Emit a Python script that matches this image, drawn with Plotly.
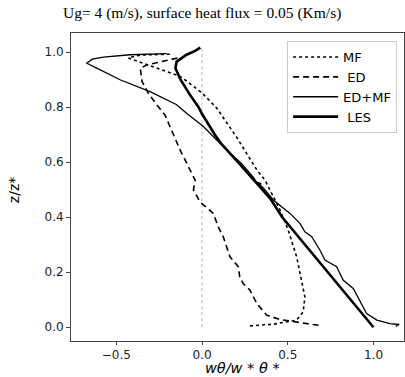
import plotly.graph_objects as go

# ---- data ----
les_x = [1.0, 0.867, 0.734, 0.60, 0.468, 0.397, 0.30, 0.25, 0.21, 0.145, 0.11, 0.075, 0.02, -0.002,
         -0.02, -0.07, -0.125, -0.155, -0.148, -0.09, -0.04, -0.01]
les_z = [0.0, 0.1, 0.2, 0.3, 0.4, 0.469, 0.535, 0.572, 0.6, 0.645, 0.669, 0.7, 0.754, 0.778,
         0.8, 0.845, 0.9, 0.942, 0.966, 0.991, 1.005, 1.017]

edmf_x = [1.13, 1.15, 1.096, 1.02, 0.96, 0.921, 0.882, 0.824, 0.785, 0.717, 0.688, 0.64, 0.60,
          0.571, 0.513, 0.416, 0.36, 0.32, 0.345, 0.33, 0.30, 0.23, 0.17, 0.16, 0.153, 0.086,
          0.008, -0.09, -0.15, -0.303, -0.478, -0.614, -0.672, -0.64, -0.575, -0.42, -0.206]
edmf_z = [0.003, 0.010, 0.013, 0.026, 0.05, 0.098, 0.141, 0.171, 0.22, 0.244, 0.28, 0.329, 0.347,
          0.378, 0.414, 0.463, 0.505, 0.528, 0.522, 0.515, 0.545, 0.596, 0.630, 0.637, 0.639, 0.681,
          0.73, 0.778, 0.81, 0.857, 0.90, 0.942, 0.96, 0.975, 0.982, 0.991, 0.995]

mf_x = [0.28, 0.416, 0.552, 0.59, 0.60, 0.581, 0.552, 0.503, 0.455, 0.416, 0.367, 0.32, 0.20,
        0.086, 0.0, -0.10, -0.128, -0.206, -0.32, -0.43, -0.36, -0.187]
mf_z = [0.005, 0.011, 0.026, 0.056, 0.11, 0.171, 0.256, 0.353, 0.426, 0.475, 0.535, 0.572, 0.693,
        0.797, 0.852, 0.90, 0.912, 0.93, 0.954, 0.979, 0.99, 0.993]

ed_x = [0.68, 0.552, 0.455, 0.377, 0.32, 0.28, 0.24, 0.22, 0.212, 0.163, 0.124, 0.095, 0.066,
        -0.012, -0.05, -0.04, -0.07, -0.128, -0.187, -0.216, -0.264, -0.313, -0.35, -0.36,
        -0.32, -0.128]
ed_z = [0.007, 0.02, 0.028, 0.044, 0.086, 0.135, 0.159, 0.183, 0.22, 0.256, 0.329, 0.365, 0.414,
        0.456, 0.499, 0.535, 0.572, 0.645, 0.73, 0.772, 0.809, 0.851, 0.894, 0.942, 0.954, 0.981]

zero_x = [0.0, 0.0]
zero_z = [0.0, 1.02]

x_ticks = [-0.5, 0.0, 0.5, 1.0]
x_tick_labels = ["\u22120.5", "0.0", "0.5", "1.0"]
y_ticks = [0.0, 0.2, 0.4, 0.6, 0.8, 1.0]
y_tick_labels = ["0.0", "0.2", "0.4", "0.6", "0.8", "1.0"]

title_text = "Ug= 4 (m/s), surface heat flux = 0.05 (Km/s)"

fig = go.Figure()
fig.add_trace(go.Scatter(x=zero_x, y=zero_z, mode="lines", showlegend=False, hoverinfo="skip",
                         line=dict(color="#b5b5b5", width=1, dash="dot")))
fig.add_trace(go.Scatter(x=mf_x, y=mf_z, mode="lines", name="MF",
                         line=dict(color="black", width=1.6, dash="dot")))
fig.add_trace(go.Scatter(x=ed_x, y=ed_z, mode="lines", name=" ED",
                         line=dict(color="black", width=1.6, dash="6px,4px")))
fig.add_trace(go.Scatter(x=edmf_x, y=edmf_z, mode="lines", name="ED+MF",
                         line=dict(color="black", width=1.3)))
fig.add_trace(go.Scatter(x=les_x, y=les_z, mode="lines", name=" LES",
                         line=dict(color="black", width=2.6)))

axis_common = dict(showgrid=False, zeroline=False, showline=True, linecolor="#444", linewidth=1,
                   mirror=True, ticks="outside", tickcolor="#444",
                   tickfont=dict(family="DejaVu Sans", size=12, color="#222"))

fig.update_layout(
    width=405, height=377,
    margin=dict(l=71, r=1, t=33, b=36),
    paper_bgcolor="white", plot_bgcolor="white",
    xaxis=dict(range=[-0.764, 1.178], tickvals=x_ticks, ticktext=x_tick_labels, ticklen=3,
               **axis_common),
    yaxis=dict(range=[-0.05, 1.07], tickvals=y_ticks, ticktext=y_tick_labels, ticklen=4,
               **axis_common),
    legend=dict(x=0.649, y=0.974, xanchor="left", yanchor="top",
                bgcolor="white", bordercolor="#cccccc", borderwidth=1,
                font=dict(family="DejaVu Sans", size=13, color="black"),
                tracegroupgap=0, itemwidth=45),
    showlegend=True,
    annotations=[
        dict(text=title_text, xref="paper", yref="paper", x=0.393, y=1.065,
             xanchor="center", yanchor="middle", showarrow=False,
             font=dict(family="Liberation Serif", size=15.5, color="black")),
        dict(text="<i>w\u03b8/w * \u03b8 *</i>", xref="paper", yref="paper", x=0.516, y=-0.088,
             xanchor="center", yanchor="middle", showarrow=False,
             font=dict(family="DejaVu Sans", size=14.5, color="black")),
        dict(text="z/z*", xref="paper", yref="paper", x=-0.171, y=0.49, textangle=-90,
             xanchor="center", yanchor="middle", showarrow=False,
             font=dict(family="DejaVu Sans", size=14, color="black")),
    ],
)

fig.write_html("out.html")
